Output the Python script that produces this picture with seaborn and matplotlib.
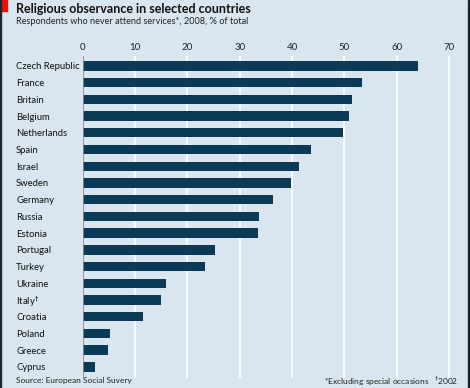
import matplotlib.pyplot as plt
import matplotlib.patches as patches
import pandas as pd
import seaborn as sns

# Data
countries = ['Czech Republic', 'France', 'Britain', 'Belgium', 'Netherlands', 'Spain',
             'Israel', 'Sweden', 'Germany', 'Russia', 'Estonia', 'Portugal', 'Turkey',
             'Ukraine', 'Italy$^{\u2020}$', 'Croatia', 'Poland', 'Greece', 'Cyprus']
never_attend = [64.1, 53.4, 51.5, 50.9, 49.8, 43.7, 41.3, 39.7, 36.4, 33.6, 33.4,
                25.2, 23.3, 15.9, 14.9, 11.6, 5.2, 4.8, 2.4]
xticks = [0, 10, 20, 30, 40, 50, 60, 70]

df = pd.DataFrame({'country': countries, 'value': never_attend})

bg = '#d9e6ef'
bar_color = '#0b3a56'

sns.set_style('white')
plt.rcParams['font.family'] = ['Lato', 'DejaVu Sans']

fig = plt.figure(figsize=(4.7, 3.88), dpi=100)
fig.patch.set_facecolor(bg)
ax = fig.add_axes([0.176, 0.026, 0.803, 0.830])
ax.set_facecolor(bg)

sns.barplot(data=df, x='value', y='country', color=bar_color, width=0.56,
            saturation=1, linewidth=0, ax=ax, zorder=3)

ax.set_xlim(0, 72.1)
ax.set_ylim(18.66, -0.6)
ax.set_xticks(xticks)
ax.xaxis.tick_top()
ax.tick_params(axis='x', length=0, pad=3, labelsize=7, colors='#222222')
ax.tick_params(axis='y', length=0, pad=0, labelsize=6.8, colors='#111111')
for lab in ax.get_yticklabels():
    lab.set_horizontalalignment('left')
    lab.set_x(-66.7 / 377.3)
for t in xticks[1:]:
    ax.axvline(t, color='white', lw=1.2, zorder=1)
ax.axvline(0, color='#8a8a8a', lw=1.2, zorder=4)
ax.set_xlabel('')
ax.set_ylabel('')
for s in ax.spines.values():
    s.set_visible(False)

# red tag and dark side borders
fig.add_artist(patches.Rectangle((0, 1 - 11 / 388), 7 / 470, 11 / 388,
                                 transform=fig.transFigure, color='#e3120b'))
fig.add_artist(patches.Rectangle((0, 0), 1 / 470, 1, transform=fig.transFigure,
                                 color='#1c2630'))
fig.add_artist(patches.Rectangle((468 / 470, 0), 2 / 470, 1, transform=fig.transFigure,
                                 color='#1c2630'))

fig.text(16 / 470, 1 - 9 / 388, 'Religious observance in selected countries',
         fontsize=9, fontweight='bold', va='center', ha='left', color='#111111')
fig.text(16 / 470, 1 - 22 / 388, 'Respondents who never attend services*, 2008, % of total',
         fontsize=6.6, va='center', ha='left', color='#222222')
fig.text(16 / 470, 1 - 381 / 388, 'Source: European Social Suvery',
         fontsize=6, va='center', ha='left', color='#222222')
fig.text(458 / 470, 1 - 381 / 388, '*Excluding special occasions   $^{\u2020}$2002',
         fontsize=6, va='center', ha='right', color='#222222')

fig.savefig('out.png', dpi=100, facecolor=bg)
